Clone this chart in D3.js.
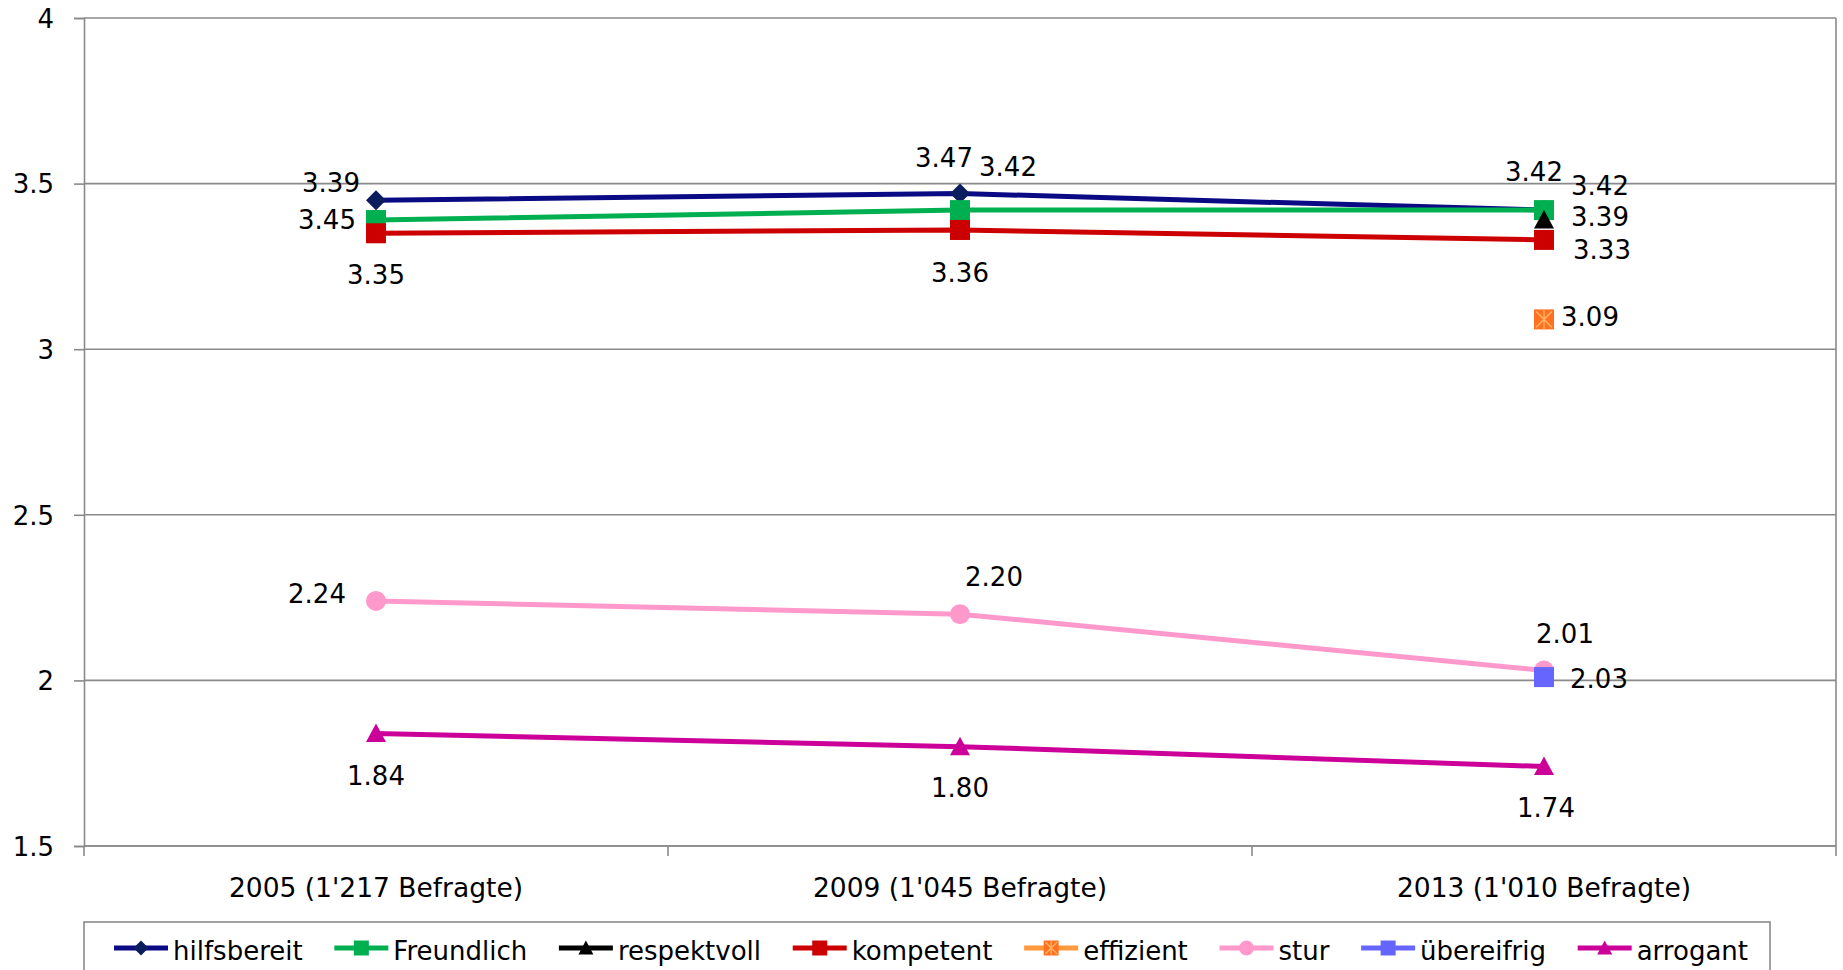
<!DOCTYPE html>
<html>
<head>
<meta charset="utf-8">
<script src="https://cdn.jsdelivr.net/npm/d3@7"></script>
<style>
  html, body { margin: 0; padding: 0; background: #fff; overflow: hidden; }
  text { font-family: "DejaVu Sans", Verdana, sans-serif; fill: #000; }
</style>
</head>
<body>
<svg id="chart" width="1843" height="970"></svg>
<script>
// ---- data ----
const categories = ["2005 (1'217 Befragte)", "2009 (1'045 Befragte)", "2013 (1'010 Befragte)"];
const seriesNames = ["hilfsbereit", "Freundlich", "respektvoll", "kompetent", "effizient", "stur", "übereifrig", "arrogant"];
const hilfsbereit = [3.45, 3.47, 3.42];
const freundlich  = [3.39, 3.42, 3.42];
const respektvoll = [null, null, 3.39];
const kompetent   = [3.35, 3.36, 3.33];
const effizient   = [null, null, 3.09];
const stur        = [2.24, 2.20, 2.03];
const uebereifrig = [null, null, 2.01];
const arrogant    = [1.84, 1.80, 1.74];
const yTickValues = [1.5, 2, 2.5, 3, 3.5, 4];
const yTickLabels = ["1.5", "2", "2.5", "3", "3.5", "4"];

// ---- styles / layout (not data) ----
const seriesStyle = [
  { line: "#0a0a84", marker: "#0c1d5e", shape: "diamond" },
  { line: "#00b050", marker: "#00b050", shape: "square" },
  { line: "#000000", marker: "#000000", shape: "triangle" },
  { line: "#cc0000", marker: "#cc0000", shape: "square" },
  { line: "#ff9a3c", marker: "#ff7020", shape: "xsquare" },
  { line: "#ff99cc", marker: "#ff99cc", shape: "circle" },
  { line: "#6666ff", marker: "#6666ff", shape: "square" },
  { line: "#cc0099", marker: "#cc0099", shape: "triangle" }
];
// label centre offsets relative to the point
const labelOffsets = [
  [[-49, 19], [-16, -36], [-10, -38]],
  [[-45, -37], [48, -43], [56, -24]],
  [null, null, [56, -3]],
  [[0, 41], [0, 43], [58, 10]],
  [null, null, [46, -3]],
  [[-59, -7], [34, -38], [55, 8]],
  [null, null, [21, -43]],
  [[0, 42], [0, 41], [2, 41]]
];

const allValues = [hilfsbereit, freundlich, respektvoll, kompetent, effizient, stur, uebereifrig, arrogant];
const series = seriesNames.map((name, i) => ({ name, values: allValues[i], style: seriesStyle[i], offsets: labelOffsets[i] }));

const svg = d3.select("#chart");
svg.append("rect").attr("width", 1843).attr("height", 970).attr("fill", "#fff");

const plot = { left: 84, right: 1836, top: 18, bottom: 846 };
const x = d3.scaleBand().domain(categories).range([plot.left, plot.right]).padding(0);
const y = d3.scaleLinear().domain([1.5, 4]).range([plot.bottom, plot.top]);
const cx = c => x(c) + x.bandwidth() / 2;
const gridColor = "#8a8a8a";

// gridlines
svg.append("g").selectAll("line").data(yTickValues).join("line")
  .attr("x1", plot.left).attr("x2", plot.right)
  .attr("y1", d => y(d)).attr("y2", d => y(d))
  .attr("stroke", gridColor).attr("stroke-width", 1.6);

// right border
svg.append("line").attr("x1", plot.right).attr("x2", plot.right)
  .attr("y1", plot.top).attr("y2", plot.bottom)
  .attr("stroke", gridColor).attr("stroke-width", 1.6);

// y axis
const yAxis = svg.append("g").attr("transform", `translate(${plot.left},0)`)
  .call(d3.axisLeft(y).tickValues(yTickValues).tickSize(10).tickPadding(20)
    .tickFormat((d, i) => yTickLabels[i]));
yAxis.select(".domain").attr("stroke", gridColor).attr("stroke-width", 1.6);
yAxis.selectAll(".tick line").attr("stroke", gridColor).attr("stroke-width", 1.6);
yAxis.selectAll(".tick text").attr("font-size", 26).attr("fill", "#000")
  .attr("font-family", "DejaVu Sans").attr("dy", "0.36em");

// x axis (ticks at category boundaries)
const xAxis = svg.append("g").attr("transform", `translate(0,${plot.bottom})`);
xAxis.append("line").attr("x1", plot.left).attr("x2", plot.right)
  .attr("stroke", gridColor).attr("stroke-width", 1.6);
const boundaries = categories.map(c => x(c)).concat([x(categories[categories.length - 1]) + x.bandwidth()]);
xAxis.selectAll("line.tk").data(boundaries).join("line").attr("class", "tk")
  .attr("x1", d => d).attr("x2", d => d).attr("y1", 0).attr("y2", 10)
  .attr("stroke", gridColor).attr("stroke-width", 1.6);
xAxis.selectAll("text").data(categories).join("text")
  .attr("x", d => cx(d)).attr("y", 51).attr("text-anchor", "middle")
  .attr("font-size", 26.5).text(d => d);

// marker drawing
function drawMarker(g, shape, px, py, color, s) {
  const h = s / 2;
  if (shape === "diamond") {
    g.append("path").attr("d", `M${px},${py - h}L${px + h},${py}L${px},${py + h}L${px - h},${py}Z`).attr("fill", color);
  } else if (shape === "square") {
    g.append("rect").attr("x", px - h).attr("y", py - h).attr("width", s).attr("height", s).attr("fill", color);
  } else if (shape === "triangle") {
    g.append("path").attr("d", `M${px},${py - h}L${px + h},${py + h * 0.85}L${px - h},${py + h * 0.85}Z`).attr("fill", color);
  } else if (shape === "circle") {
    g.append("circle").attr("cx", px).attr("cy", py).attr("r", h).attr("fill", color);
  } else if (shape === "xsquare") {
    g.append("rect").attr("x", px - h).attr("y", py - h).attr("width", s).attr("height", s).attr("fill", color);
    const k = h * 0.8;
    g.append("path").attr("d", `M${px - k},${py - k}L${px + k},${py + k}M${px + k},${py - k}L${px - k},${py + k}M${px},${py - h}L${px},${py + h}`)
      .attr("stroke", "#ffb060").attr("stroke-width", 1.5).attr("fill", "none");
  }
}

const line = d3.line().defined(d => d.v != null).x(d => cx(d.c)).y(d => y(d.v));
const fmt = d3.format(".2f");

// lines and markers
series.forEach(s => {
  const pts = s.values.map((v, i) => ({ v, c: categories[i] }));
  const g = svg.append("g");
  g.append("path").datum(pts).attr("d", line).attr("fill", "none")
    .attr("stroke", s.style.line).attr("stroke-width", 5).attr("stroke-linejoin", "round");
  pts.forEach(p => { if (p.v != null) drawMarker(g, s.style.shape, cx(p.c), y(p.v), s.style.marker, 20); });
});

// data labels
series.forEach(s => {
  s.values.forEach((v, i) => {
    if (v == null) return;
    const off = s.offsets[i];
    svg.append("text")
      .attr("x", cx(categories[i]) + off[0])
      .attr("y", y(v) + off[1])
      .attr("dy", "0.36em")
      .attr("text-anchor", "middle")
      .attr("font-size", 26)
      .text(fmt(v));
  });
});

// legend
const legend = svg.append("g");
legend.append("rect").attr("x", 84).attr("y", 922).attr("width", 1686).attr("height", 80)
  .attr("fill", "#fff").attr("stroke", gridColor).attr("stroke-width", 1.6);
const items = series.map(s => {
  const g = legend.append("g");
  const t = g.append("text").attr("x", 59).attr("y", 12).attr("font-size", 26).text(s.name);
  return { g, s, w: 59 + t.node().getComputedTextLength() };
});
const startX = 114, endX = 1748;
const totalW = d3.sum(items, d => d.w);
const gap = (endX - startX - totalW) / (items.length - 1);
let cur = startX;
items.forEach(it => {
  it.g.attr("transform", `translate(${cur},948)`);
  it.g.insert("line", "text").attr("x1", 0).attr("x2", 54).attr("y1", 0).attr("y2", 0)
    .attr("stroke", it.s.style.line).attr("stroke-width", 5);
  drawMarker(it.g, it.s.style.shape, 27, 0, it.s.style.marker, 15);
  cur += it.w + gap;
});
</script>
</body>
</html>
